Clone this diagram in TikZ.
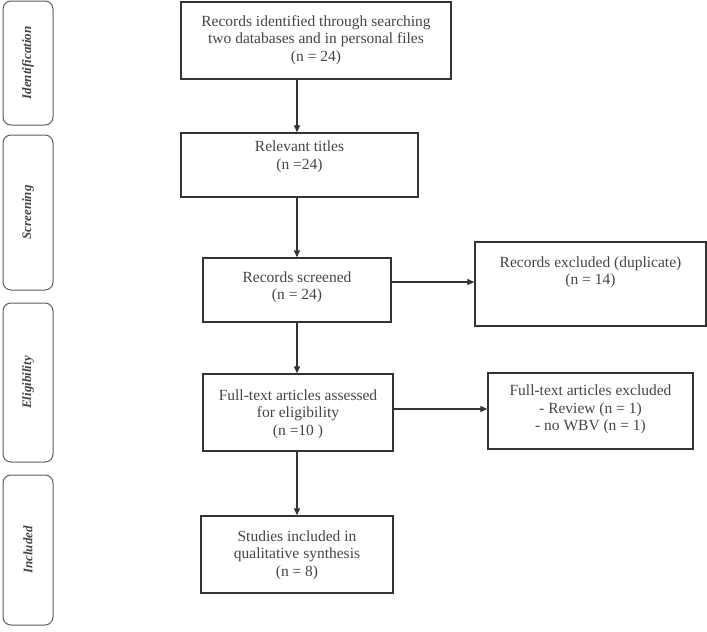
\documentclass[tikz,border=0pt]{standalone}
\usepackage{fontspec}
\setmainfont{Liberation Serif}
\usetikzlibrary{arrows.meta}
\definecolor{ink}{HTML}{333333}
\definecolor{txtc}{HTML}{454545}
\tikzset{
  box/.style={draw=ink, line width=1.4pt, inner sep=0pt},
  txt/.style={text=txtc, font=\fontsize{15.5}{17.5}\selectfont, align=center, inner sep=0pt},
  phase/.style={draw=ink!80, line width=1pt, rounded corners=8pt, inner sep=0pt, minimum width=50pt},
  phasetxt/.style={text=txtc, font=\fontsize{13}{15}\selectfont\bfseries\itshape, rotate=90, inner sep=0pt},
  arr/.style={draw=ink, line width=1.3pt, -{Triangle[length=7pt,width=6pt]}}
}
\begin{document}
\begin{tikzpicture}[x=1pt,y=-1pt]
\useasboundingbox (0,0) rectangle (707,632);
% phase labels
\node[phase, minimum height=124pt] (p1) at (28,63) {};
\node[phasetxt] at (p1) {Identification};
\node[phase, minimum height=155pt] (p2) at (28,212.5) {};
\node[phasetxt] at (p2) {Screening};
\node[phase, minimum height=159pt] (p3) at (28,382.5) {};
\node[phasetxt] at (p3) {Eligibility};
\node[phase, minimum height=150pt] (p4) at (28,550) {};
\node[phasetxt] at (p4) {Included};
% boxes
\node[box, minimum width=270pt, minimum height=77pt] (b1) at (316,40.5) {};
\node[txt] at (316,40) {Records identified through searching\\two databases and in personal files\\(n = 24)};
\node[box, minimum width=237pt, minimum height=64pt] (b2) at (299.5,165) {};
\node[txt] at (299.5,157) {Relevant titles\\(n =24)};
\node[box, minimum width=188pt, minimum height=64pt] (b3) at (297,290) {};
\node[txt] at (297,287.5) {Records screened\\(n = 24)};
\node[box, minimum width=231pt, minimum height=84pt] (b5) at (590.5,284) {};
\node[txt] at (590.5,272.5) {Records excluded (duplicate)\\(n = 14)};
\node[box, minimum width=190pt, minimum height=77pt] (b4) at (298,412.5) {};
\node[txt] at (298,414) {Full-text articles assessed\\for eligibility\\(n =10 )};
\node[box, minimum width=205pt, minimum height=76pt] (b6) at (590.5,411) {};
\node[txt] at (590.5,409.5) {Full-text articles excluded\\- Review (n = 1)\\- no WBV (n = 1)};
\node[box, minimum width=192pt, minimum height=77pt] (b7) at (297,554.5) {};
\node[txt] at (297,555) {Studies included in\\qualitative synthesis\\(n = 8)};
% connectors
\draw[arr] (b1.south -| b3) -- (b2.north -| b3);
\draw[arr] (b2.south -| b3) -- (b3.north);
\draw[arr] (b3.east |- 0,282) -- (b5.west |- 0,282);
\draw[arr] (b3.south) -- (b4.north -| b3);
\draw[arr] (b4.east |- 0,409) -- (b6.west |- 0,409);
\draw[arr] (b4.south -| b3) -- (b7.north -| b3);
\end{tikzpicture}
\end{document}
